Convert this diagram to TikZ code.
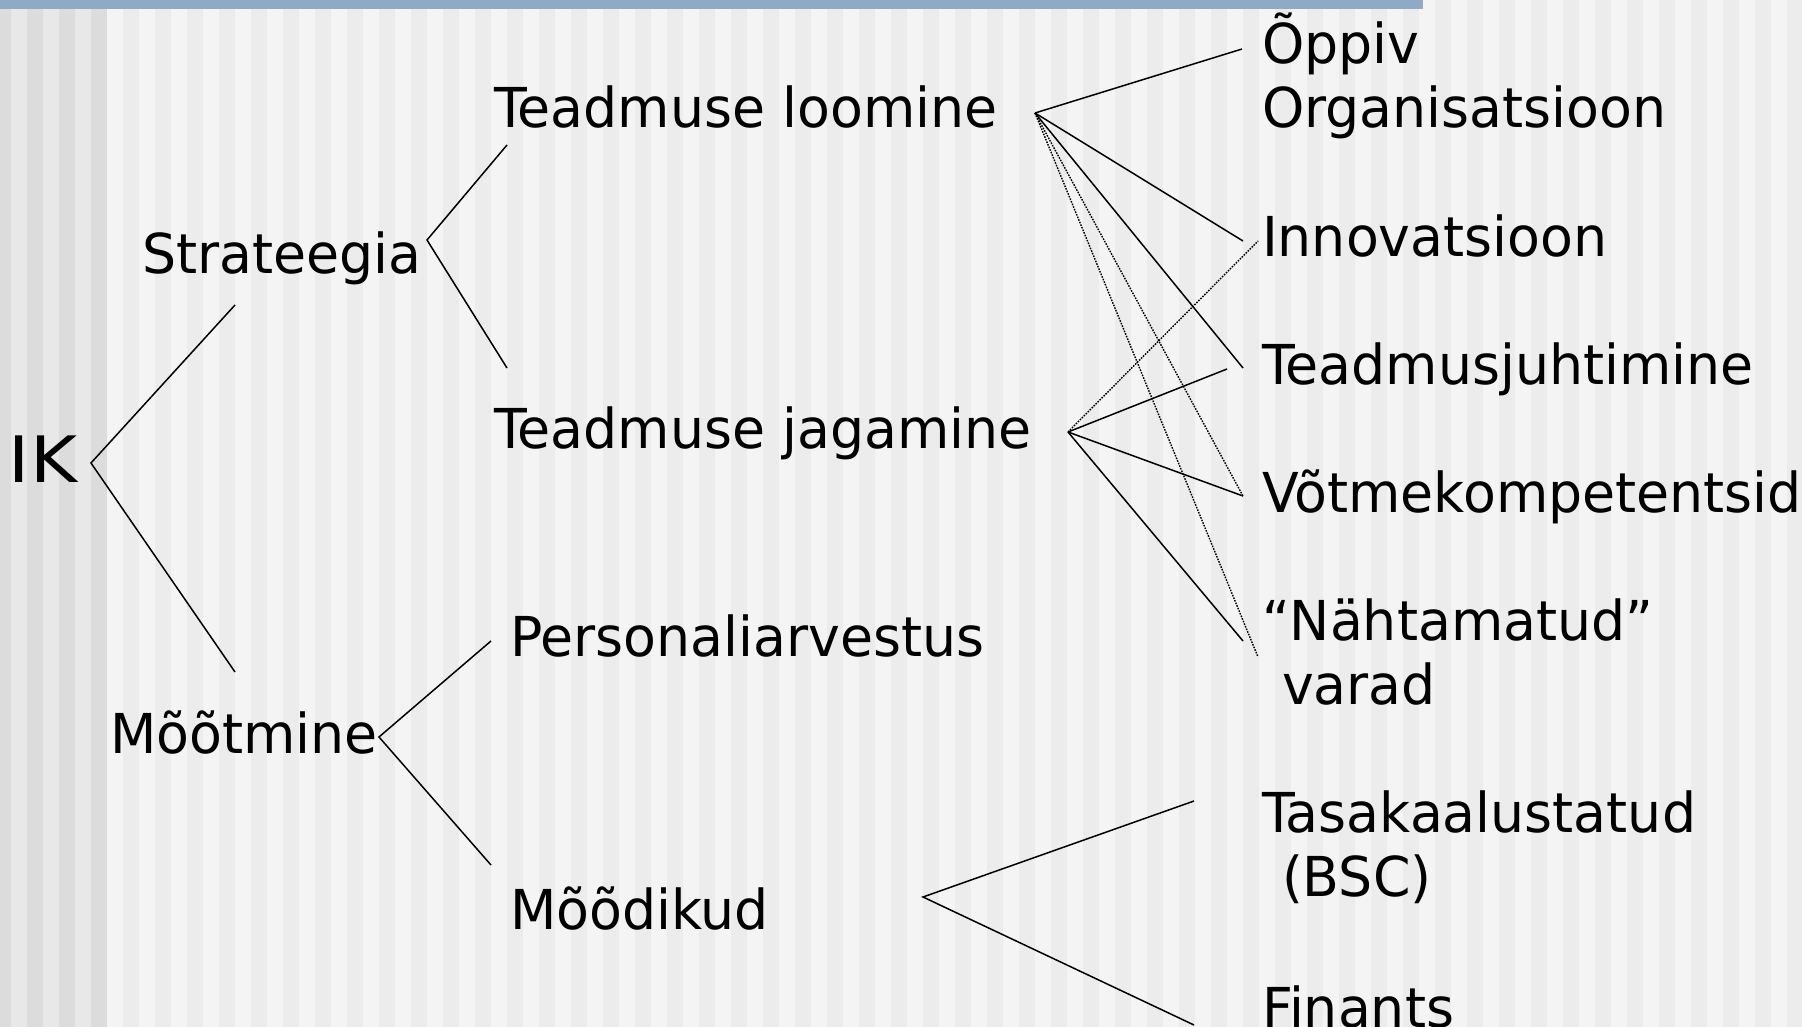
\documentclass[tikz,border=0pt]{standalone}
\usepackage{fontspec}
\setmainfont[FakeStretch=0.977]{DejaVu Sans}
\newfontfamily\ikfont[FakeStretch=1.12]{DejaVu Sans}
\definecolor{bgL}{HTML}{F4F4F4}
\definecolor{bgD}{HTML}{ECECEC}
\definecolor{lfL}{HTML}{E8E8E8}
\definecolor{lfD}{HTML}{DCDCDC}
\definecolor{barc}{HTML}{8FA9C6}
\begin{document}
\begin{tikzpicture}[x=1pt,y=-1pt,
  lbl/.style={anchor=base west,inner sep=0pt,outer sep=0pt,font=\fontsize{55}{64}\selectfont},
  link/.style={line width=1.5pt,black},
  dotlink/.style={line width=1.4pt,black,dash pattern=on 1.6pt off 1.2pt}]
\useasboundingbox (0,0) rectangle (1802,1027);
% background stripes
\fill[bgL] (0,0) rectangle (1802,1027);
\foreach \i in {0,...,52} \fill[bgD] ({123+32*\i},0) rectangle ({139+32*\i},1027);
\fill[lfL] (0,0) rectangle (107,1027);
\fill[lfD] (0,0) rectangle (11,1027);
\foreach \a in {27,59,91} \fill[lfD] (\a,0) rectangle ({\a+16},1027);
\fill[barc] (0,0) rectangle (1423,9.5);

% labels
\node[lbl,font=\ikfont\fontsize{64}{70}\selectfont] (ik) at (9,482) {IK};
\node[lbl] (strat) at (142,273) {Strateegia};
\node[lbl] (moot) at (110,753) {Mõõtmine};
\node[lbl] (tl) at (494,128) {Teadmuse loomine};
\node[lbl] (tj) at (494,448) {Teadmuse jagamine};
\node[lbl] (pers) at (510,656) {Personaliarvestus};
\node[lbl] (mood) at (510,929) {Mõõdikud};
\node[lbl] (oppiv) at (1262,64) {\begin{tabular}[t]{@{}l@{}}Õppiv\\Organisatsioon\end{tabular}};
\node[lbl] (innov) at (1262,256) {Innovatsioon};
\node[lbl] (tjuht) at (1262,384) {Teadmusjuhtimine};
\node[lbl] (votme) at (1262,512) {Võtmekompetentsid};
\node[lbl] (naht) at (1262,640) {\begin{tabular}[t]{@{}l@{}}“Nähtamatud”\\\hspace*{20pt}varad\end{tabular}};
\node[lbl] (tasak) at (1262,832) {\begin{tabular}[t]{@{}l@{}}Tasakaalustatud\\\hspace*{20pt}(BSC)\end{tabular}};
\node[lbl] (fin) at (1262,1027) {Finants};

% connector points
\coordinate (ikv) at (91,463);
\coordinate (iku) at (235,305);
\coordinate (ikd) at (235,672);
\coordinate (sv) at (427,240);
\coordinate (su) at (507,145);
\coordinate (sd) at (507,368);
\coordinate (mv) at (379,737);
\coordinate (mu) at (491,641);
\coordinate (md) at (491,865);
\coordinate (tlv) at (1035,113);
\coordinate (tl1) at (1242,49);
\coordinate (tl2) at (1243,241);
\coordinate (tl3) at (1243,368);
\coordinate (tl4) at (1243,496);
\coordinate (tl5) at (1258,657);
\coordinate (tjv) at (1068,432);
\coordinate (tj2) at (1258,241);
\coordinate (tj3) at (1227,369);
\coordinate (tj4) at (1243,496);
\coordinate (tj5) at (1243,641);
\coordinate (dv) at (923,897);
\coordinate (du) at (1194,801);
\coordinate (dd) at (1194,1025);

% connectors
\draw[link] (iku) -- (ikv) -- (ikd);
\draw[link] (su) -- (sv) -- (sd);
\draw[link] (mu) -- (mv) -- (md);
\draw[link] (du) -- (dv) -- (dd);
\draw[link] (tlv) -- (tl1);
\draw[link] (tlv) -- (tl2);
\draw[link] (tlv) -- (tl3);
\draw[dotlink] (tlv) -- (tl4);
\draw[dotlink] (tlv) -- (tl5);
\draw[dotlink] (tjv) -- (tj2);
\draw[link] (tjv) -- (tj3);
\draw[link] (tjv) -- (tj4);
\draw[link] (tjv) -- (tj5);
\end{tikzpicture}
\end{document}
